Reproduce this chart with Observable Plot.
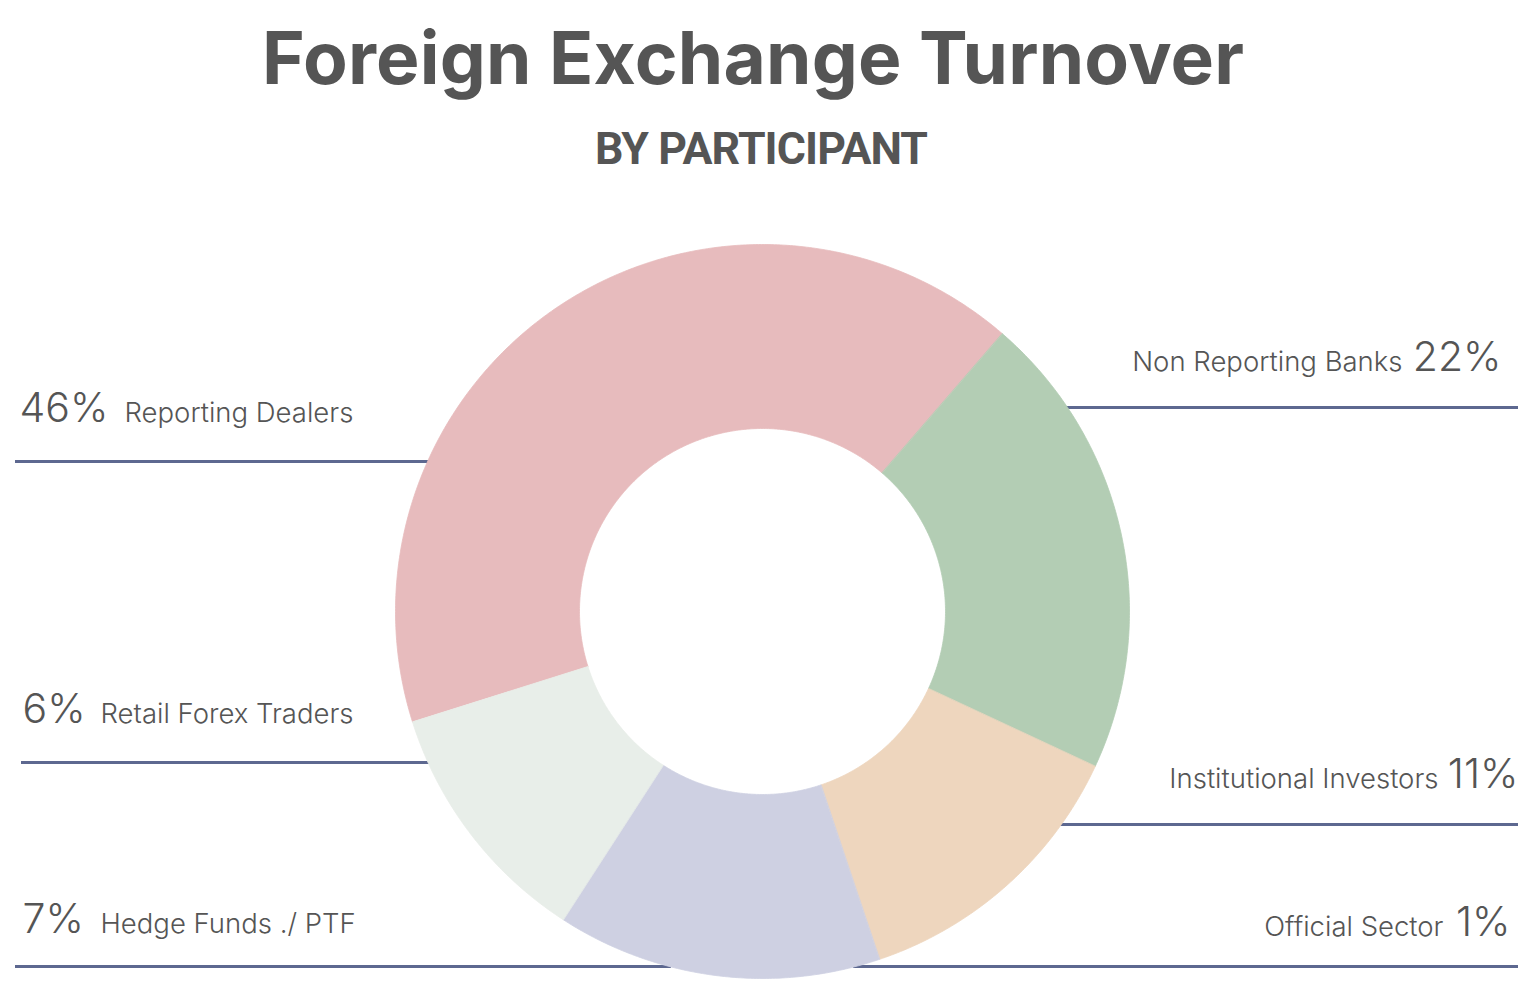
<!DOCTYPE html>
<html>
<head>
<meta charset="utf-8">
<script src="https://cdn.jsdelivr.net/npm/d3@7"></script>
<script src="https://cdn.jsdelivr.net/npm/@observablehq/plot@0.6"></script>
<style>
  html, body { margin: 0; padding: 0; background: #ffffff; }
  #wrap { position: relative; width: 1537px; height: 984px; overflow: hidden; }
  #header { position: relative; width: 1537px; height: 190px; }
  .t { position: absolute; white-space: nowrap; color: #555555; font-weight: 700; line-height: 1; }
  #title { font-family: Inter, Roboto, sans-serif; }
  #subtitle { font-family: Roboto, "Liberation Sans", sans-serif; }
  #chart { position: absolute; left: 0; top: 190px; }
</style>
</head>
<body>
<div id="wrap">
  <div id="header">
    <div class="t" id="title">Foreign Exchange Turnover</div>
    <div class="t" id="subtitle">BY PARTICIPANT</div>
  </div>
  <div id="chart"></div>
</div>
<script>
// ---- data: drawn slices (share of the ring) ----
const sliceNames  = ["Reporting Dealers", "Non Reporting Banks", "Institutional Investors", "Hedge Funds ./ PTF", "Retail Forex Traders"];
const sliceShares = [41.2, 20.6, 12.9, 14.3, 11.0];
const sliceColors = ["#e7bbbd", "#b3cdb4", "#eed6be", "#ced0e2", "#e8eee9"];

// ---- data: labels ----
const labelNames    = ["Reporting Dealers", "Retail Forex Traders", "Hedge Funds ./ PTF", "Non Reporting Banks", "Institutional Investors", "Official Sector"];
const labelPercents = ["46%", "6%", "7%", "22%", "11%", "1%"];

// ---- layout (page pixels) ----
const W = 1537, H = 984, TOP = 190;
const cx = 762, cy = 611, R = 367, r = 183;
const startDeg = -107.5;
const labelSide  = ["left", "left", "left", "right", "right", "right"];
const labelLineY = [461, 762, 966, 407, 824, 966];
const labelBase  = [421, 722, 932, 370, 787, 935];
const pctX       = [19, 22, 22, 1501, 1518, 1510];
const nameX      = [124, 100, 100, 1402, 1438, 1443];
const lineX      = [15, 21, 15, 1518, 1518, 1518];

// header text fitting
function fit(id, family, size, left, baseline, targetWidth, ascentRatio) {
  const el = document.getElementById(id);
  const ctx = document.createElement("canvas").getContext("2d");
  ctx.font = `700 ${size}px ${family}`;
  const w = ctx.measureText(el.textContent).width;
  const n = el.textContent.length;
  const ls = (targetWidth - w) / (n - 1);
  el.style.fontSize = size + "px";
  el.style.letterSpacing = ls + "px";
  el.style.left = left + "px";
  el.style.top = (baseline - ascentRatio * size) + "px";
}
// Inter: ascent .969, descent .242 -> baseline at top + 0.8635em ; Roboto: 0.8415em
fit("title", "Inter", 73, 262, 84, 982, 0.8635);
fit("subtitle", "Roboto", 44.6, 595, 165, 333, 0.8415);

// slices via d3.pie
const slices = sliceNames.map((name, i) => ({name, share: sliceShares[i]}));
const a0 = startDeg * Math.PI / 180;
const arcs = d3.pie().sort(null).value(d => d.share).startAngle(a0).endAngle(a0 + 2 * Math.PI)(slices);
const ringPoints = arcs.flatMap(a => {
  const n = Math.max(4, Math.ceil((a.endAngle - a.startAngle) / (Math.PI / 360)));
  const ts = d3.range(n + 1).map(i => a.startAngle + (a.endAngle - a.startAngle) * i / n);
  const outer = ts.map(t => ({name: a.data.name, x: cx + R * Math.sin(t), y: cy - R * Math.cos(t)}));
  const inner = ts.slice().reverse().map(t => ({name: a.data.name, x: cx + r * Math.sin(t), y: cy - r * Math.cos(t)}));
  return outer.concat(inner);
});

const labels = labelNames.map((name, i) => ({
  name, pct: labelPercents[i], side: labelSide[i],
  y: labelBase[i], px: pctX[i], nx: nameX[i]
}));
// leader lines stop where they meet the ring's outer edge
const leaders = labelNames.map((name, i) => {
  const y = labelLineY[i];
  const half = Math.sqrt(Math.max(0, R * R - (y - cy) * (y - cy))) - 2;
  return labelSide[i] === "left"
    ? {y, x1: lineX[i], x2: cx - half}
    : {y, x1: cx + half, x2: lineX[i]};
});
const left = labels.filter(d => d.side === "left");
const right = labels.filter(d => d.side === "right");

const textStyle = {fill: "#555555", fontFamily: "Inter, 'Noto Sans', sans-serif", fontWeight: 300, lineAnchor: "bottom"};

const chart = Plot.plot({
  width: W,
  height: H - TOP,
  margin: 0,
  x: {domain: [0, W], range: [0, W], axis: null},
  y: {domain: [TOP, H], range: [0, H - TOP], axis: null},
  color: {domain: sliceNames, range: sliceColors},
  marks: [
    Plot.ruleY(leaders, {y: "y", x1: "x1", x2: "x2", stroke: "#5d6890", strokeWidth: 3}),
    Plot.line(ringPoints, {x: "x", y: "y", z: "name", fill: "name", stroke: "name", strokeWidth: 0.8, curve: "linear-closed"}),
    Plot.text(left,  {x: "px", y: "y", text: "pct",  textAnchor: "start", fontSize: 41, letterSpacing: -1, ...textStyle}),
    Plot.text(left,  {x: "nx", y: "y", text: "name", textAnchor: "start", fontSize: 27.5, letterSpacing: -0.4, ...textStyle}),
    Plot.text(right, {x: "px", y: "y", text: "pct",  textAnchor: "end",   fontSize: 41, letterSpacing: -1, ...textStyle}),
    Plot.text(right, {x: "nx", y: "y", text: "name", textAnchor: "end",   fontSize: 27.5, letterSpacing: -0.4, ...textStyle})
  ]
});
document.getElementById("chart").appendChild(chart);
</script>
</body>
</html>
